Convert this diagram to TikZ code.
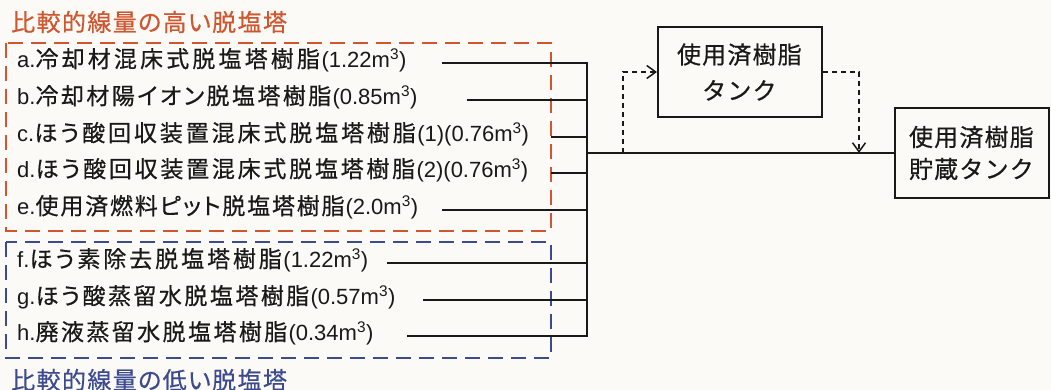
\documentclass[tikz,border=0pt]{standalone}
\usepackage{fontspec}
\setmainfont{Liberation Sans}
\newfontfamily\jp[RawFeature=+palt,FakeBold=0.5]{Noto Sans CJK JP}
\newfontfamily\jpbx[FakeBold=0.5]{Noto Sans CJK JP}
\usetikzlibrary{arrows.meta}
\makeatletter
\def\spc@end{\spc@end}
\newcommand\spcjk[2]{\def\spc@gap{#1}\spc@loop#2\spc@end}
\def\spc@loop#1{\ifx#1\spc@end\else#1\kern\spc@gap\expandafter\spc@loop\fi}
% CJK run spread to an exact width
\newcommand\cj[2]{\hbox to #1{\fontsize{23}{26}\selectfont\jp\cjw@loop#2\spc@end}}
\def\cjw@loop#1{\ifx#1\spc@end\hskip 0pt plus 0.5fil\else#1\expandafter\cjw@next\fi}
\def\cjw@next#1{\ifx#1\spc@end\hskip 0pt plus 0.5fil\else\hfil#1\expandafter\cjw@next\fi}
\makeatother
\definecolor{paper}{RGB}{251,250,247}
\definecolor{hired}{RGB}{208,86,47}
\definecolor{lowblue}{RGB}{60,75,142}
\definecolor{ink}{RGB}{25,25,25}
\tikzset{
  item/.style={anchor=west, inner sep=0pt, text=ink, font=\fontsize{22}{26}\selectfont},
  grouptitle/.style={anchor=west, inner sep=0pt, font=\fontsize{24}{27}\selectfont\jp},
  tankbox/.style={draw=ink, line width=2pt, inner sep=0pt, align=center, text=ink},
  wire/.style={draw=ink, line width=1.9pt},
  dwire/.style={draw=ink, line width=1.6pt, dash pattern=on 5pt off 4pt,
    -{Straight Barb[length=9pt,width=13pt,line width=1.5pt]}},
  groupbox/.style={line width=2.2pt, dash pattern=on 15pt off 8pt}
}
\begin{document}
\begin{tikzpicture}[x=1pt,y=-1pt]
\fill[paper] (0,0) rectangle (1051,390);
\useasboundingbox (0,0) rectangle (1051,390);

% group titles
\node[grouptitle, text=hired] (thigh) at (11,22) {\spcjk{1.4pt}{比較的線量の高い脱塩塔}};
\node[grouptitle, text=lowblue] (tlow) at (11,380) {\spcjk{1.4pt}{比較的線量の低い脱塩塔}};

% group boxes
\draw[groupbox, hired] (6,43) rectangle (551,231);
\draw[groupbox, lowblue] (6,242) rectangle (551,358);

% items
\node[item] (ia) at (17,60) {a.\cj{286pt}{冷却材混床式脱塩塔樹脂}(1.22m\textsuperscript{3})};
\node[item] (ib) at (17,97) {b.\cj{297pt}{冷却材陽イオン脱塩塔樹脂}(0.85m\textsuperscript{3})};
\node[item] (ic) at (17,134) {c.\cj{383pt}{ほう酸回収装置混床式脱塩塔樹脂}(1)(0.76m\textsuperscript{3})};
\node[item] (id) at (17,170) {d.\cj{381pt}{ほう酸回収装置混床式脱塩塔樹脂}(2)(0.76m\textsuperscript{3})};
\node[item] (ie) at (17,207) {e.\cj{310pt}{使用済燃料ピット脱塩塔樹脂}(2.0m\textsuperscript{3})};
\node[item] (if) at (17,260) {f.\cj{254pt}{ほう素除去脱塩塔樹脂}(1.22m\textsuperscript{3})};
\node[item] (ig) at (17,297) {g.\cj{275pt}{ほう酸蒸留水脱塩塔樹脂}(0.57m\textsuperscript{3})};
\node[item] (ih) at (17,333) {h.\cj{253pt}{廃液蒸留水脱塩塔樹脂}(0.34m\textsuperscript{3})};

% line starts
\coordinate (sa) at (442,63);
\coordinate (sb) at (467,100);
\coordinate (sc) at (551,137);
\coordinate (sd) at (551,173);
\coordinate (se) at (442,210);
\coordinate (sf) at (387,263);
\coordinate (sg) at (423,300);
\coordinate (sh) at (407,336);
\coordinate (bus) at (587,153);

% tanks
\node[tankbox, minimum width=164pt, minimum height=90pt,
  font=\fontsize{24}{36}\selectfont\jpbx] (tank) at (740,72) {\spcjk{1.2pt}{使用済樹脂}\\\spcjk{1.2pt}{タンク}};
\node[tankbox, minimum width=154pt, minimum height=90pt,
  font=\fontsize{24}{32}\selectfont\jpbx] (store) at (972,153) {\spcjk{1.2pt}{使用済樹脂}\\\spcjk{1.2pt}{貯蔵タンク}};

% collector wires
\foreach \s in {sa,sb,sc,sd,se,sf,sg,sh}
  \draw[wire] (\s) -- (\s -| bus);
\draw[wire, line cap=rect] (sa -| bus) -- (sh -| bus);
\draw[wire] (bus) -- (store.west);

% bypass through the used-resin tank
\coordinate (j1) at (623,153);
\coordinate (j2) at (859,153);
\draw[dwire] (j1) |- (tank.west);
\draw[dwire] (tank.east) -| (j2);
\end{tikzpicture}
\end{document}
